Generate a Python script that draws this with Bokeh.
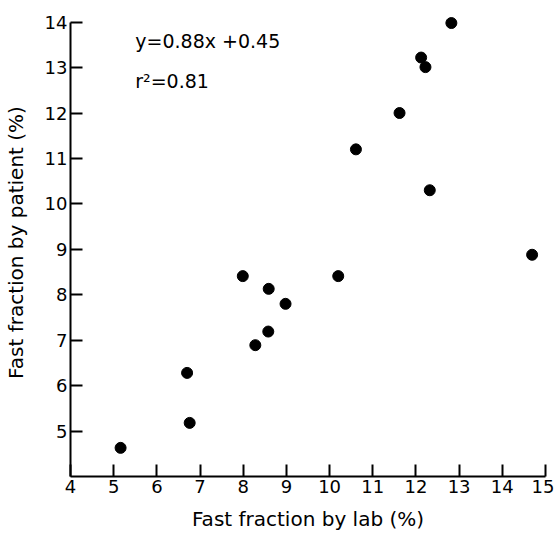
from bokeh.plotting import figure
from bokeh.models import Range1d, Label, FixedTicker
from bokeh.embed import file_html
from bokeh.resources import INLINE

lab = [5.16, 6.76, 6.70, 8.28, 8.58, 7.99, 8.59, 8.98, 10.20, 10.61, 11.62, 12.12, 12.22, 12.32, 12.82, 14.69]
patient = [4.63, 5.18, 6.28, 6.89, 7.19, 8.41, 8.13, 7.80, 8.41, 11.20, 12.00, 13.22, 13.01, 10.30, 13.98, 8.88]
x_ticks = list(range(4, 16))
y_ticks = list(range(5, 15))
eq_text = "y=0.88x +0.45"
r2_text = "r²=0.81"

FONT = "DejaVu Sans"

p = figure(width=554, height=533, output_backend="svg", toolbar_location=None,
           x_range=Range1d(4, 15), y_range=Range1d(4, 14.3),
           min_border_left=70, min_border_right=9, min_border_top=8, min_border_bottom=57)
p.outline_line_color = None
p.grid.visible = False
p.background_fill_color = "white"

p.scatter(lab, patient, size=11, color="black")

for ax in (p.xaxis[0], p.yaxis[0]):
    ax.axis_line_width = 2
    ax.axis_line_color = "black"
    ax.major_tick_line_width = 2
    ax.major_tick_line_color = "black"
    ax.major_tick_in = 12
    ax.major_tick_out = 0
    ax.minor_tick_line_color = None
    ax.major_label_text_font = FONT
    ax.major_label_text_font_size = "18px"
    ax.major_label_text_color = "black"
    ax.major_label_text_line_height = 1.0
    ax.axis_label_text_font = FONT
    ax.axis_label_text_font_size = "20px"
    ax.axis_label_text_font_style = "normal"
    ax.axis_label_text_color = "black"
    ax.axis_label_text_line_height = 0.8

p.xaxis.ticker = FixedTicker(ticks=x_ticks)
p.yaxis.ticker = FixedTicker(ticks=y_ticks)
p.xaxis.bounds = (4, 15)
p.yaxis.bounds = (4, 14)
p.xaxis.axis_label = "Fast fraction by lab (%)"
p.yaxis.axis_label = "Fast fraction by patient (%)"
p.xaxis.major_label_standoff = 3
p.yaxis.major_label_standoff = 3
p.xaxis.axis_label_standoff = 11
p.yaxis.axis_label_standoff = 14

p.add_layout(Label(x=5.5, y=13.58, text=eq_text, text_font=FONT, text_font_size="19px",
                   text_baseline="middle", text_color="black"))
p.add_layout(Label(x=5.5, y=12.7, text=r2_text, text_font=FONT, text_font_size="19px",
                   text_baseline="middle", text_color="black"))

open("out.html", "w").write(file_html(p, INLINE))
